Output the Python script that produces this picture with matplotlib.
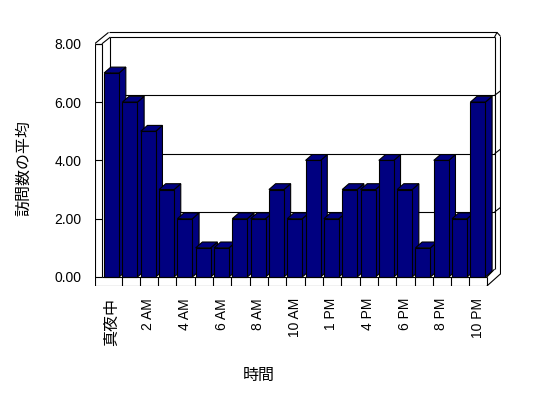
import matplotlib
matplotlib.use("Agg")
import matplotlib.pyplot as plt
from matplotlib.patches import Polygon
from matplotlib.ticker import FormatStrFormatter

plt.rcParams['font.family'] = ['Liberation Sans', 'Noto Sans CJK JP']

# data
hours = ['真夜中', '1 AM', '2 AM', '3 AM', '4 AM', '5 AM', '6 AM', '7 AM', '8 AM',
         '9 AM', '10 AM', '12 PM', '1 PM', '3 PM', '4 PM', '5 PM', '6 PM', '7 PM',
         '8 PM', '9 PM', '10 PM']
visits = [7, 6, 5, 3, 2, 1, 1, 2, 2, 3, 2, 4, 2, 3, 3, 4, 3, 1, 4, 2, 6]
yticks = [0, 2, 4, 6, 8]

NAVY = '#000080'
LW = 0.8

# geometry of the fake 3d box (data units: x = category, y = value)
DX, DY = 0.46, 0.23          # depth of the walls
X_IN, X_OUT = -0.07, -0.47   # left wall inner / outer face
X_END = 20.95                # floor front end
FLOOR = 0.31                 # floor thickness
TOP = 8
BDX, BDY = 0.365, 0.2        # depth of each bar
BW, BOFF = 0.82, 0.05

fig = plt.figure(figsize=(5.48, 3.98), dpi=100)
ax = fig.add_axes([0.1728, 0.2814, 0.7414, 0.6432])
ax.set_xlim(-0.465, 21.72)
ax.set_ylim(-0.309, 8.473)
for s in ax.spines.values():
    s.set_visible(False)


def line(xs, ys, z=2):
    ax.plot(xs, ys, color='black', lw=LW, zorder=z, solid_capstyle='butt')


# back wall
xb0, xb1 = X_IN + DX, X_END + DX - 0.04
line([xb0, xb0], [DY, TOP + DY])
line([xb0, xb1], [TOP + DY, TOP + DY])
line([X_OUT + 0.76, 21.5], [TOP + 0.39, TOP + 0.39])
line([21.5, 21.68], [TOP + 0.39, TOP + 0.27])
line([xb1, 21.5], [TOP + DY, TOP + 0.39])
line([xb1, xb1], [DY + 0.04, TOP + DY])
line([21.68, 21.68], [0.1, TOP + 0.27])
for g in yticks[1:-1]:
    line([xb0, xb1], [g + DY, g + DY], z=1)
    line([xb1, 21.68], [g + DY, g + DY + 0.15], z=1)

# left wall
line([X_OUT, X_OUT], [-FLOOR, TOP], z=60)
line([X_IN, X_IN], [0, TOP], z=60)
line([X_OUT, X_IN], [TOP, TOP], z=60)
line([X_OUT, X_OUT + 0.76], [TOP, TOP + 0.39])
line([X_IN, X_IN + DX], [TOP, TOP + DY])

# floor
line([X_IN, X_END], [0, 0], z=60)
line([X_OUT, X_END], [-FLOOR, -FLOOR], z=60)
for k in range(1, len(hours)):
    line([k, k], [-FLOOR, 0], z=60)
line([X_END, X_END], [-FLOOR, 0], z=60)
line([X_END, xb1], [0, DY + 0.04], z=60)
line([X_END, 21.68], [-FLOOR, 0.1], z=60)

# bars
for i, v in enumerate(visits):
    x0 = i + BOFF
    x1 = x0 + BW
    z = 3 + i * 2
    side = [(x1, 0), (x1, v), (x1 + BDX, v + BDY), (x1 + BDX, BDY)]
    top = [(x0, v), (x1, v), (x1 + BDX, v + BDY), (x0 + BDX, v + BDY)]
    for pts in (side, top):
        ax.add_patch(Polygon(pts, closed=True, facecolor=NAVY, edgecolor='black',
                             lw=LW, zorder=z, joinstyle='miter'))
    ax.bar(x0, v, width=BW, align='edge', color=NAVY, edgecolor='black',
           lw=LW, zorder=z + 1)

# axes text
ax.set_yticks(yticks)
ax.yaxis.set_major_formatter(FormatStrFormatter('%.2f'))
ax.tick_params(axis='y', direction='in', length=5.3, width=LW, pad=9.4,
               labelsize=10)
ax.set_xticks([i + BOFF + BW / 2 for i in range(0, len(hours), 2)])
ax.set_xticklabels(hours[::2], rotation=90)
ax.tick_params(axis='x', length=0, pad=8.6, labelsize=10)
ax.get_xticklabels()[0].set_fontsize(11.5)

ax.set_ylabel('訪問数の平均', fontsize=11.5, va='center')
ax.yaxis.set_label_coords(-0.175, 0.461)
ax.set_xlabel('時間', fontsize=11.5, va='center')
ax.xaxis.set_label_coords(0.404, -0.348)

fig.savefig('out.png', dpi=100)
